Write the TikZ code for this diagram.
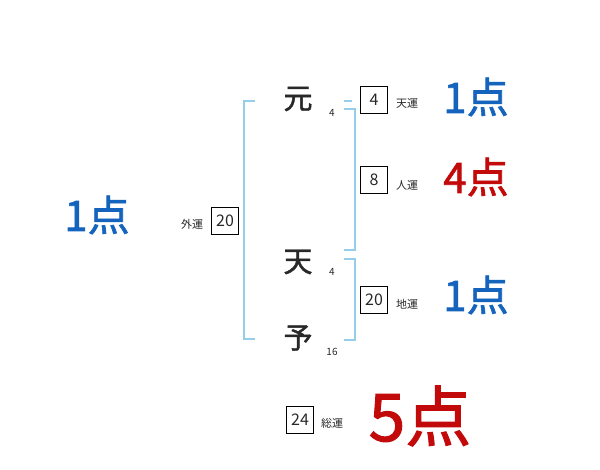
\documentclass[tikz,border=0pt]{standalone}
\usepackage{fontspec}
\setmainfont{Noto Sans CJK JP}
\newfontfamily\jp{Noto Sans CJK JP}
\newfontfamily\jpb[FakeBold=1.5]{Noto Sans CJK JP}
\definecolor{brk}{RGB}{150,205,235}
\definecolor{ptblue}{RGB}{20,100,190}
\definecolor{ptred}{RGB}{195,10,10}
\definecolor{ink}{RGB}{40,40,40}
\begin{document}
\begin{tikzpicture}[x=1pt,y=-1pt,
  brack/.style={draw=brk,line width=1.6pt},
  kanji/.style={font=\jpb\fontsize{29}{29}\selectfont,text=ink,inner sep=0pt},
  strk/.style={font=\jp\fontsize{10}{10}\selectfont,text=ink,inner sep=0pt},
  numbox/.style={draw=black,line width=0.6pt,minimum width=27pt,minimum height=27pt,inner sep=0pt,font=\jp\fontsize{16}{16}\selectfont,text=ink},
  unlab/.style={font=\jp\fontsize{11}{11}\selectfont,text=ink,inner sep=0pt},
  ptb/.style={font=\jpb\fontsize{42}{42}\selectfont,text=ptblue,inner sep=0pt},
  ptr/.style={font=\jpb\fontsize{42}{42}\selectfont,text=ptred,inner sep=0pt}]
\useasboundingbox (0,0) rectangle (600,470);
\fill[white] (0,0) rectangle (600,470);
% brackets
\draw[brack] (255,101) -- (244,101) -- (244,339) -- (255,339);
\draw[brack] (344,101) -- (352,101);
\draw[brack] (344,109) -- (355,109) -- (355,250) -- (344,250);
\draw[brack] (344,259) -- (355,259) -- (355,340) -- (344,340);
% characters
\node[kanji] (c1) at (298,99) {元};
\node[kanji] (c2) at (298,262) {天};
\node[kanji] (c3) at (298,338) {予};
\node[strk] (s1) at (332,113) {4};
\node[strk] (s2) at (332,272) {4};
\node[strk] (s3) at (332,352) {16};
% boxes
\node[numbox] (b1) at (374,100) {4};
\node[unlab] (l1) at (407,103) {天運};
\node[numbox] (b2) at (374,180) {8};
\node[unlab] (l2) at (407,185) {人運};
\node[numbox] (b3) at (374,300) {20};
\node[unlab] (l3) at (407,304) {地運};
\node[numbox] (b4) at (300,420) {24};
\node[unlab] (l4) at (332,423) {総運};
\node[numbox] (b5) at (225,221) {20};
\node[unlab] (l5) at (192,224) {外運};
% points
\node[ptb] (p1) at (476,97) {1点};
\node[ptr] (p2) at (476,177) {4点};
\node[ptb] (p3) at (476,295) {1点};
\node[font=\jpb\fontsize{66}{66}\selectfont,text=ptred,inner sep=0pt] (p4) at (420,416) {5点};
\node[ptb] (p5) at (97,215) {1点};
\end{tikzpicture}
\end{document}
